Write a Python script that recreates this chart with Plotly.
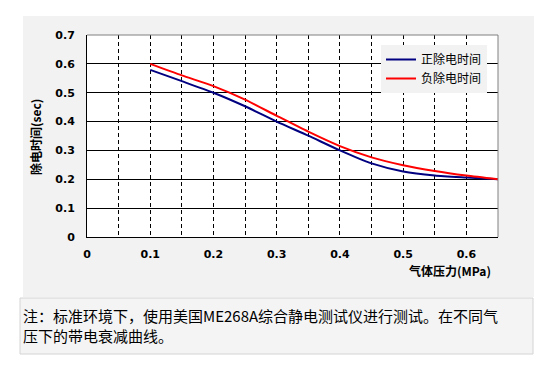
import plotly.graph_objects as go

pressure = [0.10, 0.15, 0.20, 0.25, 0.30, 0.35, 0.40, 0.45, 0.50, 0.55, 0.60, 0.65]
positive = [0.579, 0.540, 0.500, 0.453, 0.400, 0.351, 0.300, 0.255, 0.227, 0.213, 0.206, 0.200]
negative = [0.600, 0.560, 0.523, 0.476, 0.420, 0.365, 0.315, 0.276, 0.249, 0.229, 0.213, 0.200]
series_names = ["正除电时间", "负除电时间"]
x_ticks = [0, 0.1, 0.2, 0.3, 0.4, 0.5, 0.6]
x_tick_text = ["0", "0.1", "0.2", "0.3", "0.4", "0.5", "0.6"]
y_ticks = [0, 0.1, 0.2, 0.3, 0.4, 0.5, 0.6, 0.7]
y_tick_text = ["0", "0.1", "0.2", "0.3", "0.4", "0.5", "0.6", "0.7"]
note = "注：标准环境下，使用美国ME268A综合静电测试仪进行测试。在不同气<br>压下的带电衰减曲线。"

OFF = 8  # browser default body margin
W, H = 549 - OFF, 376 - OFF
L, R, T, B = 87 - OFF, 498 - OFF, 35 - OFF, 237 - OFF
pw, ph = R - L, B - T

def px(x):
    return (x - OFF - L) / pw

def py(y):
    return (B - (y - OFF)) / ph

fig = go.Figure()
fig.add_trace(go.Scatter(x=pressure, y=positive, mode="lines", name=series_names[0],
                         line=dict(color="#000080", width=2, shape="spline", smoothing=0.6)))
fig.add_trace(go.Scatter(x=pressure, y=negative, mode="lines", name=series_names[1],
                         line=dict(color="#ff0000", width=2, shape="spline", smoothing=0.6)))

tickfont = dict(family="DejaVu Sans", size=11, color="black", weight="bold")

fig.update_layout(
    width=W, height=H,
    margin=dict(l=L, r=W - R, t=T, b=H - B, pad=0),
    paper_bgcolor="white", plot_bgcolor="white",
    showlegend=True,
    legend=dict(x=px(381), y=py(45), xanchor="left", yanchor="top",
                bgcolor="#f2f2f2", borderwidth=0,
                font=dict(family="Noto Sans CJK SC", size=12, color="black"),
                tracegroupgap=0, itemwidth=30),
    xaxis=dict(range=[0, 0.65], tickvals=x_ticks, ticktext=x_tick_text,
               showgrid=True, gridcolor="black", gridwidth=1, griddash="4px,3px",
               minor=dict(dtick=0.05, tick0=0, showgrid=True, gridcolor="black",
                          gridwidth=1, griddash="4px,3px"),
               showline=True, linecolor="black", linewidth=1,
               ticks="", tickfont=tickfont, ticklabelstandoff=7, zeroline=False,
               fixedrange=True),
    yaxis=dict(range=[0, 0.7], tickvals=y_ticks, ticktext=y_tick_text,
               showgrid=True, gridcolor="black", gridwidth=1,
               showline=True, linecolor="black", linewidth=1,
               ticks="", tickfont=tickfont, ticklabelstandoff=9, zeroline=False,
               fixedrange=True),
    shapes=[
        dict(type="rect", xref="paper", yref="paper", x0=px(23), x1=px(534),
             y0=py(297), y1=py(16), fillcolor="#f2f2f2", line=dict(width=0), layer="below"),
        dict(type="rect", xref="paper", yref="paper", x0=0, x1=1, y0=0, y1=1,
             fillcolor="white", line=dict(width=0), layer="below"),
        dict(type="line", xref="paper", yref="paper", x0=0, x1=1, y0=1, y1=1,
             line=dict(color="#808080", width=1)),
        dict(type="line", xref="paper", yref="paper", x0=1, x1=1, y0=0, y1=1,
             line=dict(color="#808080", width=1)),
        dict(type="rect", xref="paper", yref="paper", x0=px(20), x1=px(533),
             y0=py(354), y1=py(298), fillcolor="#f4f4f4",
             line=dict(color="#d4d4d4", width=1), layer="below"),
    ],
    annotations=[
        dict(text="除电时间(sec)", xref="paper", yref="paper", x=px(35), y=py(137),
             xanchor="center", yanchor="middle", textangle=-90, showarrow=False,
             font=dict(family="Noto Sans CJK SC", size=12, color="black", weight="bold")),
        dict(text="气体压力(MPa)", xref="paper", yref="paper", x=px(493), y=py(270),
             xanchor="right", yanchor="middle", showarrow=False,
             font=dict(family="Noto Sans CJK SC", size=12, color="black", weight="bold")),
        dict(text=note, xref="paper", yref="paper", x=px(21), y=py(325),
             xanchor="left", yanchor="middle", align="left", showarrow=False,
             font=dict(family="Noto Sans CJK SC", size=15, color="black")),
    ],
)

fig.write_html("out.html")
